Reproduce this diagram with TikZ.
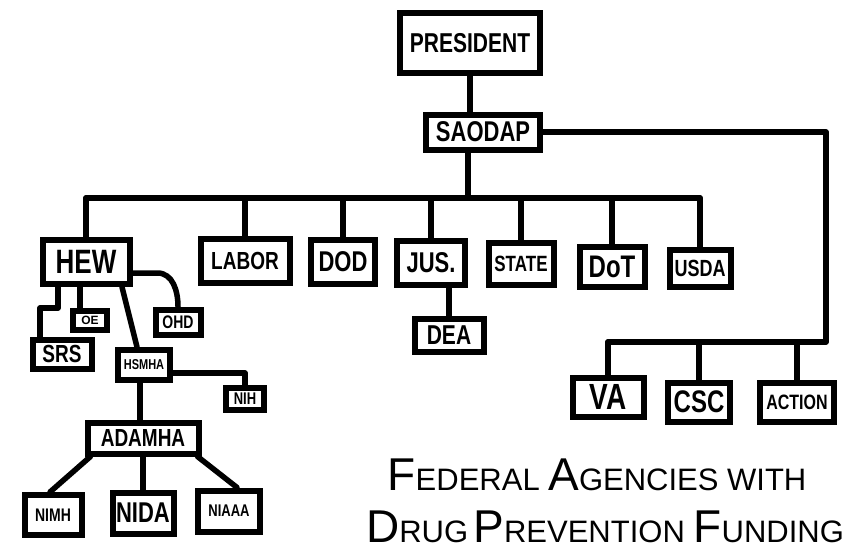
\documentclass[tikz,border=0pt]{standalone}
\usepackage{fontspec}
\setmainfont{Liberation Sans}

\tikzset{
  agency/.style={draw, line width=6pt, fill=white, inner sep=0pt,
    font=\bfseries\fontsize{#1}{#1}\selectfont},
  branch/.style={line width=5.5pt, line cap=round, line join=round},
  caption/.style={font=\fontsize{31}{31}\selectfont},
}
\newcommand{\titlecap}[2]{{\fontsize{46}{46}\selectfont #1}#2}
\newcommand{\tallword}[1]{\scalebox{1}[1.3]{#1}}

\begin{document}
\begin{tikzpicture}[x=1pt,y=-1pt]%[show background grid]
\useasboundingbox (0,0) rectangle (854,558);

\node[agency=21, minimum width=140pt, minimum height=60pt] (President) at (470,43) {\tallword{PRESIDENT}};
\node[agency=22, minimum width=114pt, minimum height=35pt] (Saodap) at (483,132) {\tallword{SAODAP}};

\node[agency=26, minimum width=87pt, minimum height=44pt] (Hew) at (86,262) {\tallword{HEW}};
\node[agency=19, minimum width=89pt, minimum height=44pt] (Labor) at (245,261) {\tallword{LABOR}};
\node[agency=22, minimum width=64pt, minimum height=44pt] (Dod) at (343,262) {\tallword{DOD}};
\node[agency=22, minimum width=68pt, minimum height=44pt] (Jus) at (431,263) {\tallword{JUS.}};
\node[agency=17, minimum width=65pt, minimum height=42pt] (State) at (521,264) {\tallword{STATE}};
\node[agency=24, minimum width=65pt, minimum height=40pt] (Dot) at (612,267) {\tallword{DoT}};
\node[agency=18, minimum width=61pt, minimum height=37pt] (Usda) at (700,268) {\tallword{USDA}};
\node[agency=21, minimum width=69pt, minimum height=33pt] (Dea) at (449,335) {\tallword{DEA}};

\node[agency=12, minimum width=34pt, minimum height=19pt] (Oe) at (90,320) {OE};
\node[agency=19, minimum width=59pt, minimum height=29pt] (Srs) at (62,354) {\tallword{SRS}};
\node[agency=14, minimum width=45pt, minimum height=25pt] (Ohd) at (178,322) {\tallword{OHD}};
\node[agency=11, minimum width=52pt, minimum height=30pt] (Hsmha) at (144,365) {\tallword{HSMHA}};
\node[agency=13, minimum width=38pt, minimum height=22pt] (Nih) at (245,399) {\tallword{NIH}};
\node[agency=19, minimum width=111pt, minimum height=31pt] (Adamha) at (143,438) {\tallword{ADAMHA}};
\node[agency=14, minimum width=57pt, minimum height=40pt] (Nimh) at (53,515) {\tallword{NIMH}};
\node[agency=22, minimum width=61pt, minimum height=41pt] (Nida) at (143,513) {\tallword{NIDA}};
\node[agency=13, minimum width=62pt, minimum height=41pt] (Niaaa) at (229,511) {\tallword{NIAAA}};

\node[agency=28, minimum width=71pt, minimum height=39pt] (Va) at (608,397) {\tallword{VA}};
\node[agency=24, minimum width=62pt, minimum height=39pt] (Csc) at (699,402) {\tallword{CSC}};
\node[agency=16, minimum width=74pt, minimum height=39pt] (Action) at (797,402) {\tallword{ACTION}};

\node[caption] (TitleTop) at (597,475) {\titlecap{F}{EDERAL} \titlecap{A}{GENCIES} WITH};
\node[caption] (TitleBottom) at (605,527) {\titlecap{D}{RUG}\,\titlecap{P}{REVENTION} \titlecap{F}{UNDING}};

\coordinate (BusLeft) at (80,198);
\coordinate (RightCorner) at (826,342);

\draw[branch] (President.south) -- (President.south |- Saodap.north);
\draw[branch] ([xshift=-15pt]Saodap.south) -- ([xshift=-15pt]Saodap.south |- BusLeft);
\draw[branch] (Hew.north |- BusLeft) -- (Usda.north |- BusLeft);
\foreach \dept in {Hew,Labor,Dod,Jus,State,Dot,Usda}
  \draw[branch] (\dept.north) -- (\dept.north |- BusLeft);
\draw[branch] (Dea.north) -- (Dea.north |- Jus.south);

\draw[branch] (Saodap.east) -- (Saodap.east -| RightCorner) -- (RightCorner) -- (Va.north |- RightCorner);
\foreach \dept in {Va,Csc,Action}
  \draw[branch] (\dept.north) -- (\dept.north |- RightCorner);

\draw[branch] ([xshift=-28pt]Hew.south) -- ++(0,21) -| ([xshift=-22pt]Srs.north);
\draw[branch] ([xshift=-6pt]Hew.south) -- ([xshift=-6pt]Hew.south |- Oe.north);
\draw[branch] ([xshift=36pt]Hew.south) -- ([xshift=-7pt]Hsmha.north);
\draw[branch] ([yshift=-11pt]Hew.east) -- ++(25,0) to[out=0, in=90] (Ohd.north);
\draw[branch] ([yshift=-8pt]Hsmha.east) -| (Nih.north);
\draw[branch] ([xshift=-4pt]Hsmha.south) -- ([xshift=-4pt]Hsmha.south |- Adamha.north);

\draw[branch] ([xshift=6pt]Adamha.south west) -- ([xshift=-3pt]Nimh.north);
\draw[branch] (Adamha.south) -- (Adamha.south |- Nida.north);
\draw[branch] ([xshift=-4pt]Adamha.south east) -- ([xshift=8pt]Niaaa.north);

\end{tikzpicture}
\end{document}
